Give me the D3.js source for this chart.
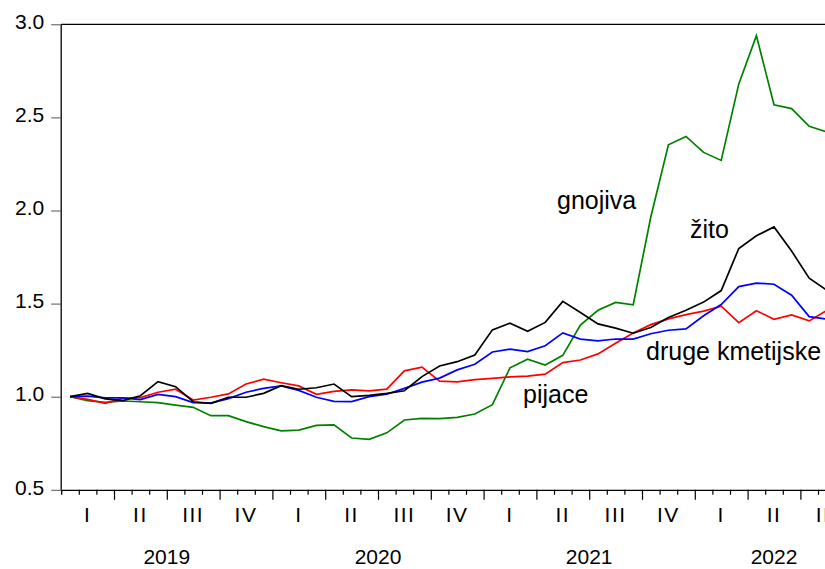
<!DOCTYPE html>
<html>
<head>
<meta charset="utf-8">
<script src="https://cdn.jsdelivr.net/npm/d3@7"></script>
<style>
  html, body { margin: 0; padding: 0; background: #fff; }
  svg { display: block; font-family: "Liberation Sans", Arial, sans-serif; }
</style>
</head>
<body>
<svg id="chart" width="825" height="569"></svg>
<script>
// Monthly price indices, January 2019 = 1.0 (Jan 2019 – Aug 2022)
const startYear = 2019;
const years = [2019, 2020, 2021, 2022];
const quarterLabels = ["I", "II", "III", "IV"];
const yTicks = [0.5, 1.0, 1.5, 2.0, 2.5, 3.0];

const zito = [
  1.000, 1.018, 0.988, 0.979, 1.005, 1.081, 1.054, 0.973, 0.964, 0.997, 0.997, 1.018,
  1.059, 1.040, 1.048, 1.068, 1.000, 1.007, 1.018, 1.032, 1.108, 1.165, 1.188, 1.224,
  1.359, 1.395, 1.351, 1.399, 1.512, 1.452, 1.391, 1.368, 1.341, 1.372, 1.425, 1.464,
  1.508, 1.570, 1.796, 1.864, 1.912, 1.782, 1.637, 1.572
];
const druge = [
  1.000, 1.003, 0.994, 0.994, 0.984, 1.012, 1.000, 0.968, 0.966, 0.990, 1.024, 1.045,
  1.058, 1.034, 0.997, 0.975, 0.974, 1.000, 1.013, 1.045, 1.078, 1.100, 1.144, 1.174,
  1.240, 1.255, 1.242, 1.274, 1.343, 1.309, 1.300, 1.310, 1.309, 1.338, 1.357, 1.364,
  1.435, 1.495, 1.591, 1.610, 1.604, 1.545, 1.430, 1.417
];
const pijace = [
  1.000, 0.986, 0.964, 0.991, 0.995, 1.024, 1.040, 0.982, 0.997, 1.015, 1.068, 1.094,
  1.075, 1.058, 1.013, 1.029, 1.037, 1.031, 1.041, 1.139, 1.159, 1.084, 1.080, 1.092,
  1.098, 1.106, 1.111, 1.121, 1.183, 1.197, 1.230, 1.287, 1.342, 1.387, 1.418, 1.441,
  1.460, 1.486, 1.398, 1.462, 1.416, 1.439, 1.407, 1.464
];
const gnojiva = [
  1.000, 0.979, 0.970, 0.977, 0.973, 0.968, 0.955, 0.943, 0.898, 0.898, 0.866, 0.839,
  0.817, 0.821, 0.846, 0.849, 0.778, 0.771, 0.806, 0.875, 0.884, 0.882, 0.889, 0.907,
  0.957, 1.155, 1.201, 1.170, 1.222, 1.385, 1.464, 1.506, 1.493, 1.965, 2.353, 2.398,
  2.312, 2.269, 2.680, 2.939, 2.568, 2.547, 2.452, 2.422
];

const series = [
  { name: "gnojiva", values: gnojiva, color: "#008000", label: [557, 209] },
  { name: "pijace", values: pijace, color: "#ff0000", label: [523, 403] },
  { name: "druge kmetijske", values: druge, color: "#0000ff", label: [646, 360] },
  { name: "žito", values: zito, color: "#000000", label: [690, 238] }
];

const svg = d3.select("#chart");
const W = 825;
const plotLeft = 61.2, plotTop = 24.3, plotBottom = 489.8;
const monthsShown = 45; // axis runs to the end of September 2022
const monthW = 17.6;

// x: month index (observation plotted at the middle of its month)
const x = d3.scaleLinear().domain([0, monthsShown]).range([plotLeft, plotLeft + monthsShown * monthW]);
const y = d3.scaleLinear().domain([0.5, 3.0]).range([plotBottom, plotTop]);

// frame: top and left edges
svg.append("line").attr("x1", plotLeft).attr("x2", W).attr("y1", y(3.0)).attr("y2", y(3.0))
  .attr("stroke", "#000").attr("stroke-width", 1.3);
svg.append("line").attr("x1", plotLeft).attr("x2", plotLeft).attr("y1", y(3.0)).attr("y2", plotBottom)
  .attr("stroke", "#000").attr("stroke-width", 1.3);

// y axis
const yAxis = d3.axisLeft(y).tickValues(yTicks).tickFormat(d3.format(".1f")).tickSize(10).tickPadding(7);
const gy = svg.append("g").attr("transform", `translate(${plotLeft},0)`).call(yAxis);
gy.select(".domain").remove();
gy.selectAll(".tick line").attr("stroke", "#555").attr("stroke-width", 1);
gy.selectAll(".tick text").attr("font-size", 21).attr("fill", "#000")
  .attr("font-family", "Liberation Sans, Arial, sans-serif").attr("dy", "0.2em");

// x axis: month ticks, longer ticks at quarter boundaries
const monthTicks = d3.range(0, monthsShown + 1);
const xAxis = d3.axisBottom(x).tickValues(monthTicks).tickFormat("").tickSizeOuter(0)
  .tickSize(5);
const gx = svg.append("g").attr("transform", `translate(0,${plotBottom})`).call(xAxis);
gx.select(".domain").attr("stroke", "#000").attr("stroke-width", 1.3);
gx.selectAll(".tick line")
  .attr("stroke", "#000").attr("stroke-width", 1.2)
  .attr("y2", d => (d % 3 === 0 ? 10 : 5));
gx.selectAll(".tick").filter(d => d === 0).select("line").remove();

// quarter labels centred in each quarter
const quarters = d3.range(0, Math.ceil(monthsShown / 3));
svg.append("g").selectAll("text").data(quarters).join("text")
  .attr("x", q => x(q * 3 + 1.5))
  .attr("y", 522)
  .attr("text-anchor", "middle")
  .attr("font-size", 21)
  .attr("letter-spacing", "1.5px")
  .text(q => quarterLabels[q % 4]);

// year labels centred on the visible part of each year
svg.append("g").selectAll("text").data(years).join("text")
  .attr("x", yr => {
    const s = (yr - startYear) * 12;
    const e = Math.min(s + 12, monthsShown);
    return x((s + e) / 2);
  })
  .attr("y", 564)
  .attr("text-anchor", "middle")
  .attr("font-size", 21)
  .text(yr => yr);

// series lines
const line = d3.line().x((d, i) => x(i + 0.5)).y(d => y(d));
svg.append("g").selectAll("path").data(series).join("path")
  .attr("d", s => line(s.values))
  .attr("fill", "none")
  .attr("stroke", s => s.color)
  .attr("stroke-width", 1.7)
  .attr("stroke-linejoin", "miter");

// in-plot series names
svg.append("g").selectAll("text").data(series).join("text")
  .attr("x", s => s.label[0])
  .attr("y", s => s.label[1])
  .attr("font-size", 25)
  .attr("fill", "#000")
  .text(s => s.name);
</script>
</body>
</html>
